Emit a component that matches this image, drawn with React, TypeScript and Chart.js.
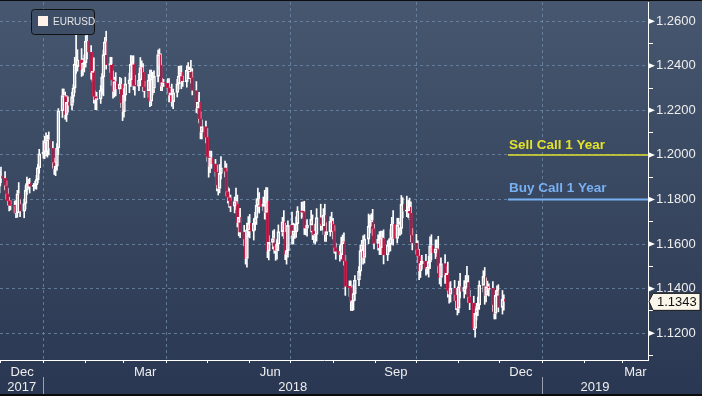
import React, { useEffect, useRef } from "react";
import { Chart, registerables } from "chart.js";

Chart.register(...registerables);

// ---------------- data ----------------
const START_DATE = "2017-11-30"; // first trading day shown
const FIRST_OPEN = 1.186;

// daily closes, one row per week (Mon..Fri)
const closes: number[] = [
  1.1905, 1.1895,
  1.1863, 1.1826, 1.1795, 1.1774, 1.1773,
  1.1770, 1.1740, 1.1826, 1.1779, 1.1748,
  1.1782, 1.1842, 1.1871, 1.1875, 1.1859,
  1.1862, 1.1866, 1.1889, 1.1943, 1.2005,
  1.2013, 1.2059, 1.2015, 1.2068, 1.2030,
  1.1966, 1.1937, 1.1950, 1.2031, 1.2198,
  1.2266, 1.2262, 1.2180, 1.2236, 1.2222,
  1.2262, 1.2300, 1.2408, 1.2396, 1.2427,
  1.2382, 1.2412, 1.2414, 1.2510, 1.2461,
  1.2370, 1.2376, 1.2262, 1.2248, 1.2251,
  1.2291, 1.2350, 1.2450, 1.2507, 1.2405,
  1.2408, 1.2337, 1.2285, 1.2329, 1.2295,
  1.2318, 1.2233, 1.2194, 1.2268, 1.2319,
  1.2337, 1.2406, 1.2410, 1.2312, 1.2308,
  1.2336, 1.2392, 1.2370, 1.2305, 1.2288,
  1.2336, 1.2241, 1.2341, 1.2299, 1.2352,
  1.2450, 1.2403, 1.2308, 1.2324, 1.2322,
  1.2302, 1.2268, 1.2278, 1.2238, 1.2280,
  1.2319, 1.2353, 1.2369, 1.2327, 1.2329,
  1.2380, 1.2372, 1.2374, 1.2347, 1.2289,
  1.2210, 1.2236, 1.2163, 1.2102, 1.2127,
  1.2079, 1.1991, 1.1950, 1.1987, 1.1960,
  1.1924, 1.1864, 1.1850, 1.1917, 1.1942,
  1.1926, 1.1836, 1.1809, 1.1795, 1.1770,
  1.1791, 1.1780, 1.1697, 1.1720, 1.1654,
  1.1622, 1.1536, 1.1664, 1.1693, 1.1658,
  1.1693, 1.1718, 1.1774, 1.1801, 1.1769,
  1.1781, 1.1742, 1.1793, 1.1569, 1.1608,
  1.1625, 1.1589, 1.1572, 1.1600, 1.1656,
  1.1700, 1.1654, 1.1555, 1.1571, 1.1684,
  1.1640, 1.1659, 1.1655, 1.1692, 1.1748,
  1.1745, 1.1742, 1.1673, 1.1671, 1.1685,
  1.1711, 1.1660, 1.1640, 1.1643, 1.1719,
  1.1691, 1.1683, 1.1729, 1.1642, 1.1656,
  1.1703, 1.1690, 1.1658, 1.1584, 1.1567,
  1.1553, 1.1601, 1.1611, 1.1525, 1.1410,
  1.1405, 1.1342, 1.1344, 1.1377, 1.1439,
  1.1479, 1.1571, 1.1597, 1.1540, 1.1622,
  1.1680, 1.1699, 1.1706, 1.1669, 1.1603,
  1.1621, 1.1583, 1.1628, 1.1624, 1.1551,
  1.1595, 1.1599, 1.1625, 1.1690, 1.1625,
  1.1686, 1.1669, 1.1670, 1.1778, 1.1748,
  1.1749, 1.1766, 1.1739, 1.1640, 1.1604,
  1.1575, 1.1547, 1.1480, 1.1512, 1.1524,
  1.1491, 1.1492, 1.1520, 1.1592, 1.1560,
  1.1579, 1.1575, 1.1501, 1.1451, 1.1513,
  1.1463, 1.1469, 1.1392, 1.1375, 1.1402,
  1.1371, 1.1346, 1.1312, 1.1409, 1.1388,
  1.1406, 1.1429, 1.1429, 1.1363, 1.1336,
  1.1222, 1.1289, 1.1309, 1.1327, 1.1415,
  1.1455, 1.1370, 1.1409, 1.1397, 1.1402,
  1.1328, 1.1289, 1.1370, 1.1393, 1.1316,
  1.1352, 1.1343,
];

// upper shadow above the body, in pips
const wickUp: number[] = [
  25, 40,
  30, 20, 25, 15, 20,
  20, 25, 15, 50, 20,
  20, 20, 30, 15, 20,
  10, 15, 20, 15, 20,
  50, 25, 40, 20, 35,
  30, 20, 20, 20, 10,
  30, 30, 20, 30, 25,
  20, 15, 30, 129, 45,
  50, 20, 35, 25, 30,
  30, 25, 60, 25, 30,
  20, 15, 20, 20, 48,
  30, 30, 40, 20, 40,
  30, 25, 30, 30, 30,
  30, 40, 35, 35, 45,
  30, 45, 30, 40, 25,
  25, 45, 40, 30, 25,
  20, 26, 50, 20, 15,
  20, 40, 25, 40, 15,
  20, 45, 30, 30, 25,
  20, 34, 20, 50, 40,
  40, 30, 45, 30, 30,
  25, 40, 25, 30, 30,
  20, 30, 30, 40, 50,
  30, 35, 20, 40, 25,
  20, 60, 40, 30, 40,
  30, 20, 30, 30, 40,
  20, 25, 30, 50, 30,
  30, 60, 60, 60, 30,
  35, 40, 25, 20, 30,
  20, 50, 40, 25, 20,
  60, 35, 30, 30, 20,
  40, 45, 50, 30, 25,
  40, 20, 30, 20, 40,
  60, 30, 30, 50, 40,
  20, 40, 25, 25, 20,
  25, 30, 30, 40, 25,
  25, 30, 35, 40, 20,
  20, 25, 20, 40, 20,
  55, 30, 30, 50, 20,
  20, 35, 30, 30, 40,
  20, 25, 40, 30, 60,
  30, 30, 30, 40, 30,
  66, 30, 40, 50, 30,
  40, 40, 30, 30, 25,
  30, 30, 25, 40, 50,
  40, 40, 60, 35, 25,
  40, 30, 50, 35, 30,
  35, 30, 30, 25, 60,
  30, 30, 71, 30, 30,
  30, 30, 25, 35, 20,
  25, 40, 40, 25, 20,
  30, 30, 20, 20, 25,
  40, 20,
];

// lower shadow below the body, in pips
const wickDown: number[] = [
  30, 20,
  20, 25, 20, 25, 20,
  30, 22, 20, 20, 25,
  30, 25, 20, 20, 30,
  20, 15, 20, 15, 25,
  20, 30, 20, 25, 30,
  25, 25, 30, 20, 30,
  30, 25, 20, 30, 30,
  20, 25, 20, 30, 20,
  30, 25, 40, 20, 30,
  30, 40, 30, 45, 45,
  20, 20, 85, 30, 20,
  35, 25, 30, 25, 30,
  20, 20, 40, 25, 25,
  40, 30, 25, 20, 40,
  20, 25, 30, 20, 30,
  30, 25, 20, 30, 20,
  25, 20, 20, 20, 15,
  25, 30, 30, 20, 30,
  20, 25, 25, 30, 20,
  25, 30, 30, 25, 20,
  20, 25, 20, 30, 30,
  25, 20, 50, 30, 20,
  20, 25, 30, 20, 25,
  25, 20, 25, 30, 25,
  30, 25, 20, 60, 25,
  30, 26, 40, 30, 30,
  40, 30, 30, 30, 30,
  20, 30, 30, 30, 40,
  30, 30, 45, 40, 30,
  20, 30, 25, 45, 30,
  40, 40, 30, 25, 30,
  30, 20, 30, 30, 35,
  30, 40, 35, 40, 30,
  30, 20, 40, 30, 30,
  20, 30, 35, 25, 35,
  30, 20, 25, 20, 40,
  40, 40, 41, 40, 30,
  25, 20, 30, 30, 25,
  20, 30, 25, 30, 25,
  30, 30, 30, 25, 40,
  25, 30, 30, 25, 30,
  20, 30, 30, 25, 30,
  25, 30, 30, 30, 30,
  20, 30, 40, 30, 25,
  30, 25, 40, 30, 30,
  25, 30, 30, 30, 40,
  40, 30, 30, 40, 35,
  25, 40, 30, 20, 30,
  30, 30, 30, 25, 30,
  6, 40, 30, 30, 20,
  30, 40, 30, 25, 30,
  30, 25, 25, 30, 20,
  30, 40,
];

const SERIES_NAME = "EURUSD";
const SELL_LABEL = "Sell Call 1 Year";
const SELL_LEVEL = 1.2;
const BUY_LABEL = "Buy Call 1 Year";
const BUY_LEVEL = 1.18;
const LEVEL_LINE_START = "2018-12-07";

const MONTH_STARTS = [
  "2017-12-01", "2018-01-01", "2018-02-01", "2018-03-01", "2018-04-01", "2018-05-01",
  "2018-06-01", "2018-07-01", "2018-08-01", "2018-09-01", "2018-10-01", "2018-11-01",
  "2018-12-01", "2019-01-01", "2019-02-01", "2019-03-01",
];
const QUARTER_GRID = ["2018-01-01", "2018-04-01", "2018-07-01", "2018-10-01", "2019-01-01"];
const MONTH_LABELS = ["Dec", "Mar", "Jun", "Sep", "Dec", "Mar"];
const MONTH_LABEL_FROM = ["2017-12-01", "2018-03-01", "2018-06-01", "2018-09-01", "2018-12-01", "2019-03-01"];
const MONTH_LABEL_TO = ["2018-01-01", "2018-04-01", "2018-07-01", "2018-10-01", "2019-01-01", "2019-04-01"];
const YEAR_LABELS = ["2017", "2018", "2019"];
const YEAR_FROM = ["2017-01-01", "2018-01-01", "2019-01-01"];
const YEAR_TO = ["2018-01-01", "2019-01-01", "2020-01-01"];
const YEAR_SEPARATORS = ["2018-01-01", "2019-01-01"];

const Y_MAJOR = [1.12, 1.14, 1.16, 1.18, 1.2, 1.22, 1.24, 1.26];
const Y_MINOR = [1.11, 1.13, 1.15, 1.17, 1.19, 1.21, 1.23, 1.25];

// axis ranges
const X_MIN = -0.7; // days from 2017-12-01
const X_MAX = 473.5;
const Y_MIN = 1.108;
const Y_MAX = 1.2686;

// ---------------- helpers ----------------
const EPOCH = Date.UTC(2017, 11, 1);
const DAY_MS = 86400000;
function dayIndex(iso: string): number {
  const [y, m, d] = iso.split("-").map(Number);
  return (Date.UTC(y, m - 1, d) - EPOCH) / DAY_MS;
}
function tradingDays(startIso: string, count: number): number[] {
  const out: number[] = [];
  let t = dayIndex(startIso);
  while (out.length < count) {
    const dow = new Date(EPOCH + t * DAY_MS).getUTCDay();
    if (dow !== 0 && dow !== 6) out.push(t);
    t += 1;
  }
  return out;
}
function visibleMid(a: string, b: string): number {
  const s = Math.max(dayIndex(a), X_MIN);
  const e = Math.min(dayIndex(b), X_MAX);
  return (s + e) / 2;
}

const FONT = "'Liberation Sans', Arial, sans-serif";
const GRID = "rgba(112,142,172,0.75)";
const CLEAR = "rgba(0,0,0,0)";
const TEXT = "#eeeeee";
const SELL_COLOR = "#e2e22a";
const BUY_COLOR = "#78b0f2";

type XTick = { value: number; kind: string; label: string | string[] };

function buildXTicks(): XTick[] {
  const t: XTick[] = [];
  MONTH_STARTS.forEach((m) => {
    t.push({ value: dayIndex(m), kind: QUARTER_GRID.includes(m) ? "grid" : "month", label: "" });
  });
  MONTH_LABELS.forEach((lab, i) => {
    t.push({ value: visibleMid(MONTH_LABEL_FROM[i], MONTH_LABEL_TO[i]), kind: "label", label: lab });
  });
  YEAR_LABELS.forEach((lab, i) => {
    t.push({ value: visibleMid(YEAR_FROM[i], YEAR_TO[i]), kind: "label", label: ["", lab] });
  });
  return t;
}

export default function App() {
  const ref = useRef<HTMLCanvasElement>(null);

  useEffect(() => {
    document.body.style.margin = "0";
    const canvas = ref.current;
    if (!canvas) return;

    const days = tradingDays(START_DATE, closes.length);
    const upBodies: any[] = [];
    const downBodies: any[] = [];
    const upperWicks: any[] = [];
    const lowerWicks: any[] = [];
    closes.forEach((c, i) => {
      const o = i === 0 ? FIRST_OPEN : closes[i - 1];
      const top = Math.max(o, c);
      const bot = Math.min(o, c);
      const hi = top + wickUp[i] / 10000;
      const lo = bot - wickDown[i] / 10000;
      (c >= o ? upBodies : downBodies).push({ x: days[i], y: [bot, top] });
      upperWicks.push({ x: days[i], y: [top, hi] });
      lowerWicks.push({ x: days[i], y: [lo, bot] });
    });

    const xTicks = buildXTicks();
    const yTicks = [...Y_MAJOR, ...Y_MINOR].sort((a, b) => a - b);
    const lineStart = dayIndex(LEVEL_LINE_START);
    const lastClose = closes[closes.length - 1];

    const decor = {
      id: "decor",
      beforeDraw(chart: any) {
        const { ctx, width, height } = chart;
        ctx.save();
        const g = ctx.createLinearGradient(0, 0, 0, height);
        g.addColorStop(0, "#47576f");
        g.addColorStop(1, "#2a3752");
        ctx.fillStyle = g;
        ctx.fillRect(0, 0, width, height);
        ctx.restore();
      },
      afterDraw(chart: any) {
        const { ctx, width, height, chartArea } = chart;
        const xs = chart.scales.x;
        const ys = chart.scales.y;
        ctx.save();

        // frame lines
        ctx.fillStyle = "#0c0c0c";
        ctx.fillRect(0, 0, width, 1);
        ctx.fillRect(0, height - 2, width, 2);

        // year separators
        ctx.strokeStyle = "rgba(200,205,215,0.7)";
        ctx.lineWidth = 1;
        YEAR_SEPARATORS.forEach((d) => {
          const px = Math.round(xs.getPixelForValue(dayIndex(d))) + 0.5;
          ctx.beginPath();
          ctx.moveTo(px, chartArea.bottom + 17);
          ctx.lineTo(px, height - 2);
          ctx.stroke();
        });

        // major tick arrows on the right axis
        ctx.fillStyle = "#ffffff";
        Y_MAJOR.forEach((v) => {
          const py = ys.getPixelForValue(v);
          const r = chartArea.right;
          ctx.beginPath();
          ctx.moveTo(r, py - 3);
          ctx.lineTo(r + 7, py);
          ctx.lineTo(r, py + 3);
          ctx.closePath();
          ctx.fill();
        });

        // level labels
        ctx.font = `bold 13.5px ${FONT}`;
        ctx.textBaseline = "alphabetic";
        ctx.textAlign = "left";
        const lx = xs.getPixelForValue(lineStart) + 1;
        ctx.fillStyle = SELL_COLOR;
        ctx.fillText(SELL_LABEL, lx, ys.getPixelForValue(SELL_LEVEL) - 5.5);
        ctx.fillStyle = BUY_COLOR;
        ctx.fillText(BUY_LABEL, lx, ys.getPixelForValue(BUY_LEVEL) - 7.5);

        // legend
        ctx.beginPath();
        if (ctx.roundRect) ctx.roundRect(31.5, 9.5, 63, 25, 3);
        else ctx.rect(31.5, 9.5, 63, 25);
        ctx.fillStyle = "#3e4e67";
        ctx.fill();
        ctx.strokeStyle = "#111111";
        ctx.lineWidth = 1;
        ctx.stroke();
        ctx.fillStyle = "#fdf1ea";
        ctx.fillRect(38, 16, 10, 10);
        ctx.fillStyle = "#e6e6e6";
        ctx.font = `10px ${FONT}`;
        ctx.textBaseline = "middle";
        ctx.fillText(SERIES_NAME, 53, 22);

        // last price tag
        const py = ys.getPixelForValue(lastClose);
        const r = chartArea.right;
        ctx.beginPath();
        ctx.moveTo(r + 1, py);
        ctx.lineTo(r + 5, py - 8);
        ctx.lineTo(width - 2, py - 8);
        ctx.lineTo(width - 2, py + 9);
        ctx.lineTo(r + 5, py + 9);
        ctx.closePath();
        ctx.fillStyle = "#fbf6ea";
        ctx.fill();
        ctx.strokeStyle = "#1a1a1a";
        ctx.stroke();
        ctx.fillStyle = "#111111";
        ctx.font = `13px ${FONT}`;
        ctx.textBaseline = "middle";
        ctx.textAlign = "left";
        ctx.fillText(lastClose.toFixed(4), r + 9, py + 1);

        ctx.restore();
      },
    };

    const chart = new Chart(canvas, {
      type: "bar",
      data: {
        datasets: [
          {
            label: SERIES_NAME,
            data: upBodies,
            backgroundColor: CLEAR,
            borderColor: "#ffffff",
            borderWidth: 1,
            borderSkipped: false,
            barThickness: 3,
            minBarLength: 1,
            stack: "c",
            order: 0,
          } as any,
          {
            label: "down",
            data: downBodies,
            backgroundColor: "rgba(140,36,80,0.92)",
            borderColor: "#d3214c",
            borderWidth: 1,
            borderSkipped: false,
            barThickness: 3,
            minBarLength: 1,
            stack: "c",
            order: 1,
          } as any,
          {
            label: "high",
            data: upperWicks,
            backgroundColor: "#ffffff",
            borderWidth: 0,
            barThickness: 1,
            stack: "c",
            order: 2,
          } as any,
          {
            label: "low",
            data: lowerWicks,
            backgroundColor: "#ffffff",
            borderWidth: 0,
            barThickness: 1,
            stack: "c",
            order: 3,
          } as any,
          {
            type: "line",
            label: SELL_LABEL,
            data: [
              { x: lineStart, y: SELL_LEVEL },
              { x: X_MAX, y: SELL_LEVEL },
            ],
            borderColor: SELL_COLOR,
            borderWidth: 1.5,
            pointRadius: 0,
            order: 4,
          } as any,
          {
            type: "line",
            label: BUY_LABEL,
            data: [
              { x: lineStart, y: BUY_LEVEL },
              { x: X_MAX, y: BUY_LEVEL },
            ],
            borderColor: BUY_COLOR,
            borderWidth: 2,
            pointRadius: 0,
            order: 5,
          } as any,
        ],
      },
      options: {
        animation: false,
        responsive: false,
        events: [],
        layout: { padding: { top: 2, left: 0, right: 0, bottom: 0 } },
        plugins: { legend: { display: false }, tooltip: { enabled: false } },
        scales: {
          x: {
            type: "linear",
            min: X_MIN,
            max: X_MAX,
            offset: false,
            bounds: "data",
            position: "bottom",
            afterBuildTicks: (s: any) => {
              s.ticks = xTicks.map((t) => ({ value: t.value, kind: t.kind }));
            },
            afterFit: (s: any) => {
              s.height = 36;
              s.paddingLeft = 0;
              s.paddingRight = 0;
            },
            ticks: {
              autoSkip: false,
              maxRotation: 0,
              minRotation: 0,
              padding: 2,
              color: TEXT,
              font: { family: FONT, size: 13, lineHeight: "15px" },
              callback: (_v: any, i: number) => xTicks[i].label,
            },
            grid: {
              offset: false,
              color: (c: any) => (c.tick && c.tick.kind === "grid" ? GRID : CLEAR),
              tickColor: (c: any) => (c.tick && c.tick.kind !== "label" ? "#ffffff" : CLEAR),
              tickLength: 3,
              lineWidth: 1,
            },
            border: { display: true, color: "#ffffff", width: 1, dash: [3, 3] },
          } as any,
          y: {
            type: "linear",
            position: "right",
            min: Y_MIN,
            max: Y_MAX,
            bounds: "data",
            stacked: false,
            beginAtZero: false,
            afterBuildTicks: (s: any) => {
              s.ticks = yTicks.map((v) => ({ value: v }));
            },
            afterFit: (s: any) => {
              s.width = 54;
              s.paddingTop = 0;
              s.paddingBottom = 0;
            },
            ticks: {
              autoSkip: false,
              padding: 3,
              color: TEXT,
              font: { family: FONT, size: 13 },
              callback: (v: any) => (Y_MAJOR.some((m) => Math.abs(m - v) < 1e-6) ? Number(v).toFixed(4) : ""),
            },
            grid: {
              color: (c: any) => (c.tick && Y_MAJOR.some((m) => Math.abs(m - c.tick.value) < 1e-6) ? GRID : CLEAR),
              tickColor: "#ffffff",
              tickLength: 5,
              lineWidth: 1,
            },
            border: { display: true, color: "#ffffff", width: 1, dash: [3, 3] },
          } as any,
        },
      },
      plugins: [decor],
    });

    return () => chart.destroy();
  }, []);

  return <canvas ref={ref} width={702} height={396} style={{ display: "block" }} />;
}
